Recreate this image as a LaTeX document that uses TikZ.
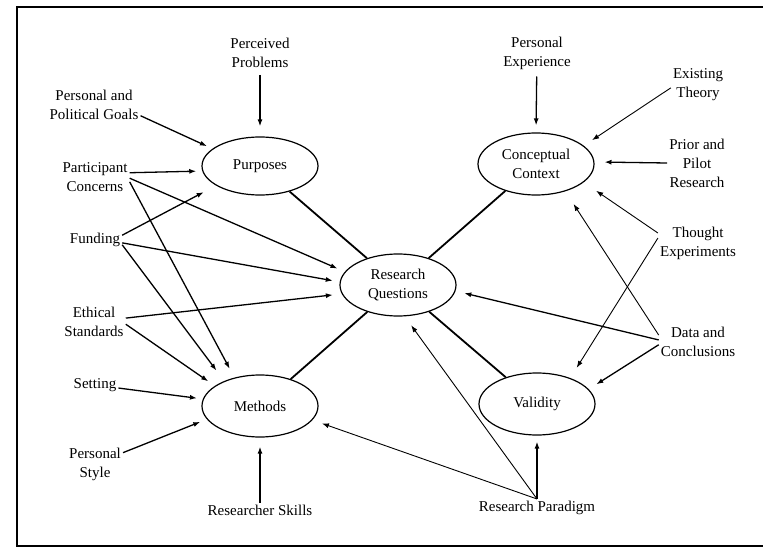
\documentclass[tikz,border=0pt]{standalone}
\usepackage{fontspec}
\setmainfont{Liberation Serif}
\usetikzlibrary{shapes.geometric,arrows.meta}
\begin{document}
\begin{tikzpicture}[x=1pt,y=-1pt,
  every node/.style={font=\fontsize{15}{19}\selectfont, align=center, inner sep=2pt},
  ell/.style={draw, ellipse, line width=1.2pt, minimum width=116pt, minimum height=62pt, inner sep=0pt},
  link/.style={line width=1.8pt},
  arr/.style={line width=1.3pt, -{Latex[length=7pt,width=5pt]}},
  tarr/.style={line width=0.9pt, -{Latex[length=7pt,width=5pt]}},
  frame/.style={line width=2pt}
]
\useasboundingbox[fill=white] (0,0) rectangle (763,548);
\draw[frame] (763,7) -- (17,7) -- (17,546) -- (763,546);

% ellipses
\node[ell, minimum height=58pt] (purp) at (260,166) {Purposes};
\node[ell] (cc) at (536,164) {Conceptual\\Context};
\node[ell] (rq) at (398,285) {Research\\Questions};
\node[ell] (meth) at (260,406) {Methods};
\node[ell] (val) at (537,404) {Validity};

% labels
\node (pp) at (260,53) {Perceived\\Problems};
\node (ppg) at (94,105) {Personal and\\Political Goals};
\node (pc) at (95,177) {Participant\\Concerns};
\node (fund) at (95,240) {Funding};
\node (eth) at (94,322) {Ethical\\Standards};
\node (sett) at (95,385) {Setting};
\node (ps) at (95,464) {Personal\\Style};
\node (rs) at (260,510) {Researcher Skills};
\node (pe) at (537,53) {Personal\\Experience};
\node (et) at (698,85) {Existing\\Theory};
\node (prior) at (697,163) {Prior and\\Pilot\\Research};
\node (te) at (698,243) {Thought\\Experiments};
\node (dc) at (698,342) {Data and\\Conclusions};
\node (rp) at (537,508) {Research Paradigm};

% links between ellipses
\draw[link] (purp) -- (rq);
\draw[link] (cc) -- (rq);
\draw[link] (rq) -- (meth);
\draw[link] (rq) -- (val);

% into Purposes
\draw[arr, shorten <=5pt, shorten >=10pt] (pp) -- (purp.90);
\draw[arr, shorten >=6pt] (ppg.-13) -- (purp.160);
\draw[arr, shorten >=6pt] (pc.7) -- (purp.185);
\draw[arr, shorten >=14pt] (fund.10) -- (purp.204);

% into Research Questions
\draw[arr, shorten >=8pt] (pc.-2) -- (rq.166);
\draw[arr, shorten >=7pt] (fund.-6) -- (rq.177);
\draw[arr, shorten >=9pt] (eth.7) -- (rq.189);
\draw[arr, shorten >=9pt] (dc.177) -- (rq.-6);
\draw[tarr, shorten >=11pt] (rp.north) -- (rq.-78);

% into Methods
\draw[arr, shorten >=10pt] (pc.-8) -- (meth.132);
\draw[arr, shorten >=13pt] (fund.-10) -- (meth.145);
\draw[arr, shorten >=8pt] (eth.-4) -- (meth.156);
\draw[arr, shorten >=6pt] (sett) -- (meth.173);
\draw[arr, shorten >=7pt] (ps.22) -- (meth.194);
\draw[arr, shorten >=9pt] (rs) -- (meth.-90);
\draw[tarr, shorten >=10pt] (rp.north) -- (meth.-15);

% into Conceptual Context
\draw[arr, shorten <=5pt, shorten >=7pt] (pe) -- (cc.90);
\draw[tarr, shorten >=10pt] (et.186) -- (cc.21);
\draw[arr, shorten >=10pt] (prior.west) -- (cc.2);
\draw[tarr, shorten >=15pt] (te.166) -- (cc.-21);
\draw[tarr, shorten >=15pt] (dc.170) -- (cc.-43);

% into Validity
\draw[tarr, shorten >=12pt] (te.173) -- (val.38);
\draw[arr, shorten >=9pt] (dc.184) -- (val.16);
\draw[arr, shorten >=6pt] (rp.north) -- (val.-90);
\end{tikzpicture}
\end{document}
